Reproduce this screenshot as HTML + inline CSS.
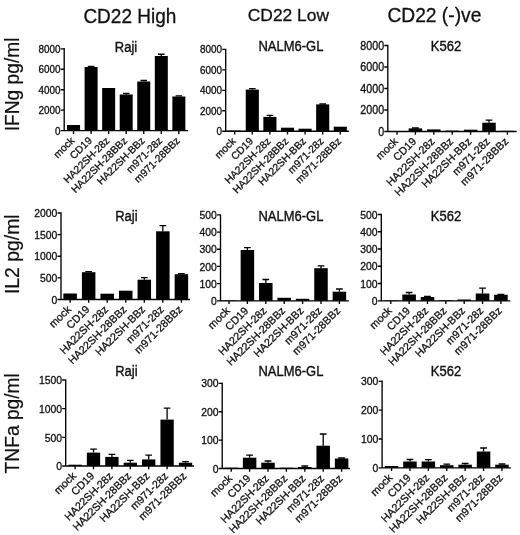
<!DOCTYPE html>
<html lang="en">
<head>
<meta charset="utf-8">
<title>Cytokine production by CD22 CAR T cells</title>
<style>
html,body{margin:0;padding:0;background:#fff;}
svg{display:block;will-change:transform;filter:grayscale(1);}
text{font-family:"Liberation Sans", Arial, Helvetica, sans-serif;fill:#111;stroke:#111;stroke-width:0.3px;}
.tt{stroke-width:0.35px;}
.rl{stroke-width:0.2px;}
.ax{stroke:#000;stroke-width:1.35;fill:none;}
.bar{fill:#000;}
.err{stroke:#000;stroke-width:1.3;fill:none;}
</style>
</head>
<body>
<svg width="520" height="535" viewBox="0 0 520 535">
<rect width="520" height="535" fill="#fff"/>
<text transform="translate(83.4 22.8) scale(1 1.09)" font-size="19">CD22 High</text>
<text transform="translate(247.8 20.9) scale(1 1)" font-size="17.4">CD22 Low</text>
<text transform="translate(387.5 21.9) scale(1 1.02)" font-size="19.2">CD22 (-)ve</text>
<text class="rl" transform="translate(18.5 84.4) rotate(-90) scale(1 1.05)" text-anchor="middle" font-size="19.2">IFNg pg/ml</text>
<text class="rl" transform="translate(18.8 254.2) rotate(-90) scale(1 1.05)" text-anchor="middle" font-size="19.4">IL2 pg/ml</text>
<text class="rl" transform="translate(18.8 423.3) rotate(-90) scale(1 1.05)" text-anchor="middle" font-size="19.2">TNFa pg/ml</text>
<g>
<text class="tt" transform="translate(126 51.8) scale(1 1.08)" text-anchor="middle" font-size="13">Raji</text>
<rect class="bar" x="67.05" y="125" width="13" height="5.65"/>
<path class="err" d="M91.1 67 V66.5 M87.85 66.5 H94.35"/>
<rect class="bar" x="84.6" y="67" width="13" height="63.65"/>
<rect class="bar" x="102.15" y="88" width="13" height="42.65"/>
<path class="err" d="M126.2 94.5 V93.5 M122.95 93.5 H129.45"/>
<rect class="bar" x="119.7" y="94.5" width="13" height="36.15"/>
<path class="err" d="M143.75 81.5 V80.5 M140.5 80.5 H147"/>
<rect class="bar" x="137.25" y="81.5" width="13" height="49.15"/>
<path class="err" d="M161.3 56 V54.25 M158.05 54.25 H164.55"/>
<rect class="bar" x="154.8" y="56" width="13" height="74.65"/>
<path class="err" d="M178.85 96.5 V95.8 M175.6 95.8 H182.1"/>
<rect class="bar" x="172.35" y="96.5" width="13" height="34.15"/>
<path class="ax" d="M64.2 48.12 V130.65 H188 M64.2 130.65 H60.7 M64.2 110.19 H60.7 M64.2 89.72 H60.7 M64.2 69.26 H60.7 M64.2 48.8 H60.7 M73.55 130.65 V133.95 M91.1 130.65 V133.95 M108.65 130.65 V133.95 M126.2 130.65 V133.95 M143.75 130.65 V133.95 M161.3 130.65 V133.95 M178.85 130.65 V133.95"/>
<text transform="translate(60.5 134.62) scale(1 1.12)" text-anchor="end" font-size="9.9">0</text>
<text transform="translate(60.5 114.16) scale(1 1.12)" text-anchor="end" font-size="9.9">2000</text>
<text transform="translate(60.5 93.69) scale(1 1.12)" text-anchor="end" font-size="9.9">4000</text>
<text transform="translate(60.5 73.23) scale(1 1.12)" text-anchor="end" font-size="9.9">6000</text>
<text transform="translate(60.5 52.77) scale(1 1.12)" text-anchor="end" font-size="9.9">8000</text>
<text transform="translate(75.15 141.25) rotate(-45)" text-anchor="end" font-size="10.3">mock</text>
<text transform="translate(92.7 141.25) rotate(-45)" text-anchor="end" font-size="10.3">CD19</text>
<text transform="translate(110.25 141.25) rotate(-45)" text-anchor="end" font-size="10.3">HA22SH-28z</text>
<text transform="translate(127.8 141.25) rotate(-45)" text-anchor="end" font-size="10.3">HA22SH-28BBz</text>
<text transform="translate(145.35 141.25) rotate(-45)" text-anchor="end" font-size="10.3">HA22SH-BBz</text>
<text transform="translate(162.9 141.25) rotate(-45)" text-anchor="end" font-size="10.3">m971-28z</text>
<text transform="translate(180.45 141.25) rotate(-45)" text-anchor="end" font-size="10.3">m971-28BBz</text>
</g>
<g>
<text class="tt" transform="translate(290.9 51.2) scale(1 1.08)" text-anchor="middle" font-size="13">NALM6-GL</text>
<rect class="bar" x="228.15" y="130.6" width="13.1" height="0.6"/>
<path class="err" d="M252.3 89.6 V88.6 M249.03 88.6 H255.58"/>
<rect class="bar" x="245.75" y="89.6" width="13.1" height="41.6"/>
<path class="err" d="M269.9 116.9 V115.4 M266.63 115.4 H273.18"/>
<rect class="bar" x="263.35" y="116.9" width="13.1" height="14.3"/>
<rect class="bar" x="280.95" y="127.7" width="13.1" height="3.5"/>
<rect class="bar" x="298.55" y="128.7" width="13.1" height="2.5"/>
<path class="err" d="M322.7 104.4 V104 M319.43 104 H325.97"/>
<rect class="bar" x="316.15" y="104.4" width="13.1" height="26.8"/>
<rect class="bar" x="333.75" y="126.7" width="13.1" height="4.5"/>
<path class="ax" d="M225.7 48.73 V131.2 H348.9 M225.7 131.2 H222.2 M225.7 110.75 H222.2 M225.7 90.3 H222.2 M225.7 69.85 H222.2 M225.7 49.4 H222.2 M234.7 131.2 V134.5 M252.3 131.2 V134.5 M269.9 131.2 V134.5 M287.5 131.2 V134.5 M305.1 131.2 V134.5 M322.7 131.2 V134.5 M340.3 131.2 V134.5"/>
<text transform="translate(222 135.17) scale(1 1.12)" text-anchor="end" font-size="9.9">0</text>
<text transform="translate(222 114.72) scale(1 1.12)" text-anchor="end" font-size="9.9">2000</text>
<text transform="translate(222 94.27) scale(1 1.12)" text-anchor="end" font-size="9.9">4000</text>
<text transform="translate(222 73.82) scale(1 1.12)" text-anchor="end" font-size="9.9">6000</text>
<text transform="translate(222 53.37) scale(1 1.12)" text-anchor="end" font-size="9.9">8000</text>
<text transform="translate(236.3 141.8) rotate(-45)" text-anchor="end" font-size="10.3">mock</text>
<text transform="translate(253.9 141.8) rotate(-45)" text-anchor="end" font-size="10.3">CD19</text>
<text transform="translate(271.5 141.8) rotate(-45)" text-anchor="end" font-size="10.3">HA22SH-28z</text>
<text transform="translate(289.1 141.8) rotate(-45)" text-anchor="end" font-size="10.3">HA22SH-28BBz</text>
<text transform="translate(306.7 141.8) rotate(-45)" text-anchor="end" font-size="10.3">HA22SH-BBz</text>
<text transform="translate(324.3 141.8) rotate(-45)" text-anchor="end" font-size="10.3">m971-28z</text>
<text transform="translate(341.9 141.8) rotate(-45)" text-anchor="end" font-size="10.3">m971-28BBz</text>
</g>
<g>
<text class="tt" transform="translate(446 51.2) scale(1 1.08)" text-anchor="middle" font-size="13">K562</text>
<rect class="bar" x="390.25" y="131.2" width="13.5" height="0.3"/>
<path class="err" d="M415.4 128.4 V128 M412.02 128 H418.77"/>
<rect class="bar" x="408.65" y="128.4" width="13.5" height="3.1"/>
<rect class="bar" x="427.05" y="129.4" width="13.5" height="2.1"/>
<rect class="bar" x="445.45" y="130.6" width="13.5" height="0.9"/>
<rect class="bar" x="463.85" y="129.7" width="13.5" height="1.8"/>
<path class="err" d="M489 122.7 V120.2 M485.62 120.2 H492.38"/>
<rect class="bar" x="482.25" y="122.7" width="13.5" height="8.8"/>
<rect class="bar" x="500.65" y="130.8" width="13.5" height="0.7"/>
<path class="ax" d="M387.8 44.83 V131.5 H516.7 M387.8 131.5 H384.3 M387.8 110 H384.3 M387.8 88.5 H384.3 M387.8 67 H384.3 M387.8 45.5 H384.3 M397 131.5 V134.8 M415.4 131.5 V134.8 M433.8 131.5 V134.8 M452.2 131.5 V134.8 M470.6 131.5 V134.8 M489 131.5 V134.8 M507.4 131.5 V134.8"/>
<text transform="translate(384.1 135.79) scale(1 1.12)" text-anchor="end" font-size="10.7">0</text>
<text transform="translate(384.1 114.29) scale(1 1.12)" text-anchor="end" font-size="10.7">2000</text>
<text transform="translate(384.1 92.79) scale(1 1.12)" text-anchor="end" font-size="10.7">4000</text>
<text transform="translate(384.1 71.29) scale(1 1.12)" text-anchor="end" font-size="10.7">6000</text>
<text transform="translate(384.1 49.79) scale(1 1.12)" text-anchor="end" font-size="10.7">8000</text>
<text transform="translate(398.6 142.1) rotate(-45)" text-anchor="end" font-size="10.8">mock</text>
<text transform="translate(417 142.1) rotate(-45)" text-anchor="end" font-size="10.8">CD19</text>
<text transform="translate(435.4 142.1) rotate(-45)" text-anchor="end" font-size="10.8">HA22SH-28z</text>
<text transform="translate(453.8 142.1) rotate(-45)" text-anchor="end" font-size="10.8">HA22SH-28BBz</text>
<text transform="translate(472.2 142.1) rotate(-45)" text-anchor="end" font-size="10.8">HA22SH-BBz</text>
<text transform="translate(490.6 142.1) rotate(-45)" text-anchor="end" font-size="10.8">m971-28z</text>
<text transform="translate(509 142.1) rotate(-45)" text-anchor="end" font-size="10.8">m971-28BBz</text>
</g>
<g>
<text class="tt" transform="translate(126.4 220.6) scale(1 1.08)" text-anchor="middle" font-size="13">Raji</text>
<rect class="bar" x="63.35" y="293.5" width="13.5" height="6"/>
<path class="err" d="M88.65 272.2 V271.7 M85.28 271.7 H92.03"/>
<rect class="bar" x="81.9" y="272.2" width="13.5" height="27.3"/>
<rect class="bar" x="100.45" y="293.7" width="13.5" height="5.8"/>
<rect class="bar" x="119" y="290.7" width="13.5" height="8.8"/>
<path class="err" d="M144.3 279.7 V277.7 M140.93 277.7 H147.68"/>
<rect class="bar" x="137.55" y="279.7" width="13.5" height="19.8"/>
<path class="err" d="M162.85 231.3 V225.6 M159.47 225.6 H166.22"/>
<rect class="bar" x="156.1" y="231.3" width="13.5" height="68.2"/>
<path class="err" d="M181.4 274.2 V273.7 M178.03 273.7 H184.78"/>
<rect class="bar" x="174.65" y="274.2" width="13.5" height="25.3"/>
<path class="ax" d="M61 212.32 V299.5 H190 M61 299.5 H57.5 M61 277.88 H57.5 M61 256.25 H57.5 M61 234.62 H57.5 M61 213 H57.5 M70.1 299.5 V302.8 M88.65 299.5 V302.8 M107.2 299.5 V302.8 M125.75 299.5 V302.8 M144.3 299.5 V302.8 M162.85 299.5 V302.8 M181.4 299.5 V302.8"/>
<text transform="translate(57.3 303.67) scale(1 1.12)" text-anchor="end" font-size="10.4">0</text>
<text transform="translate(57.3 282.04) scale(1 1.12)" text-anchor="end" font-size="10.4">500</text>
<text transform="translate(57.3 260.42) scale(1 1.12)" text-anchor="end" font-size="10.4">1000</text>
<text transform="translate(57.3 238.79) scale(1 1.12)" text-anchor="end" font-size="10.4">1500</text>
<text transform="translate(57.3 217.17) scale(1 1.12)" text-anchor="end" font-size="10.4">2000</text>
<text transform="translate(71.7 310.1) rotate(-45)" text-anchor="end" font-size="10.8">mock</text>
<text transform="translate(90.25 310.1) rotate(-45)" text-anchor="end" font-size="10.8">CD19</text>
<text transform="translate(108.8 310.1) rotate(-45)" text-anchor="end" font-size="10.8">HA22SH-28z</text>
<text transform="translate(127.35 310.1) rotate(-45)" text-anchor="end" font-size="10.8">HA22SH-28BBz</text>
<text transform="translate(145.9 310.1) rotate(-45)" text-anchor="end" font-size="10.8">HA22SH-BBz</text>
<text transform="translate(164.45 310.1) rotate(-45)" text-anchor="end" font-size="10.8">m971-28z</text>
<text transform="translate(183 310.1) rotate(-45)" text-anchor="end" font-size="10.8">m971-28BBz</text>
</g>
<g>
<text class="tt" transform="translate(290.9 220.6) scale(1 1.08)" text-anchor="middle" font-size="13">NALM6-GL</text>
<rect class="bar" x="222.25" y="300.3" width="13.5" height="0.5"/>
<path class="err" d="M247.4 250 V247.6 M244.03 247.6 H250.78"/>
<rect class="bar" x="240.65" y="250" width="13.5" height="50.8"/>
<path class="err" d="M265.8 283 V279.5 M262.43 279.5 H269.18"/>
<rect class="bar" x="259.05" y="283" width="13.5" height="17.8"/>
<rect class="bar" x="277.45" y="297.8" width="13.5" height="3"/>
<rect class="bar" x="295.85" y="298.8" width="13.5" height="2"/>
<path class="err" d="M321 268.2 V265.9 M317.62 265.9 H324.38"/>
<rect class="bar" x="314.25" y="268.2" width="13.5" height="32.6"/>
<path class="err" d="M339.4 291.7 V289 M336.02 289 H342.77"/>
<rect class="bar" x="332.65" y="291.7" width="13.5" height="9.1"/>
<path class="ax" d="M220.5 214.22 V300.8 H348.9 M220.5 300.8 H217 M220.5 283.62 H217 M220.5 266.44 H217 M220.5 249.26 H217 M220.5 232.08 H217 M220.5 214.9 H217 M229 300.8 V304.1 M247.4 300.8 V304.1 M265.8 300.8 V304.1 M284.2 300.8 V304.1 M302.6 300.8 V304.1 M321 300.8 V304.1 M339.4 300.8 V304.1"/>
<text transform="translate(216.8 304.97) scale(1 1.12)" text-anchor="end" font-size="10.4">0</text>
<text transform="translate(216.8 287.79) scale(1 1.12)" text-anchor="end" font-size="10.4">100</text>
<text transform="translate(216.8 270.61) scale(1 1.12)" text-anchor="end" font-size="10.4">200</text>
<text transform="translate(216.8 253.43) scale(1 1.12)" text-anchor="end" font-size="10.4">300</text>
<text transform="translate(216.8 236.25) scale(1 1.12)" text-anchor="end" font-size="10.4">400</text>
<text transform="translate(216.8 219.07) scale(1 1.12)" text-anchor="end" font-size="10.4">500</text>
<text transform="translate(230.6 311.4) rotate(-45)" text-anchor="end" font-size="10.8">mock</text>
<text transform="translate(249 311.4) rotate(-45)" text-anchor="end" font-size="10.8">CD19</text>
<text transform="translate(267.4 311.4) rotate(-45)" text-anchor="end" font-size="10.8">HA22SH-28z</text>
<text transform="translate(285.8 311.4) rotate(-45)" text-anchor="end" font-size="10.8">HA22SH-28BBz</text>
<text transform="translate(304.2 311.4) rotate(-45)" text-anchor="end" font-size="10.8">HA22SH-BBz</text>
<text transform="translate(322.6 311.4) rotate(-45)" text-anchor="end" font-size="10.8">m971-28z</text>
<text transform="translate(341 311.4) rotate(-45)" text-anchor="end" font-size="10.8">m971-28BBz</text>
</g>
<g>
<text class="tt" transform="translate(446 220.6) scale(1 1.08)" text-anchor="middle" font-size="13">K562</text>
<rect class="bar" x="383.95" y="300.3" width="13.6" height="0.5"/>
<path class="err" d="M409.11 294.5 V292.5 M405.71 292.5 H412.51"/>
<rect class="bar" x="402.31" y="294.5" width="13.6" height="6.3"/>
<path class="err" d="M427.47 297 V296.5 M424.07 296.5 H430.87"/>
<rect class="bar" x="420.67" y="297" width="13.6" height="3.8"/>
<rect class="bar" x="439.03" y="300.2" width="13.6" height="0.6"/>
<rect class="bar" x="457.39" y="299.5" width="13.6" height="1.3"/>
<path class="err" d="M482.55 293.5 V288.2 M479.15 288.2 H485.95"/>
<rect class="bar" x="475.75" y="293.5" width="13.6" height="7.3"/>
<path class="err" d="M500.91 294.8 V294.3 M497.51 294.3 H504.31"/>
<rect class="bar" x="494.11" y="294.8" width="13.6" height="6"/>
<path class="ax" d="M381.3 213.82 V300.8 H510.3 M381.3 300.8 H377.8 M381.3 283.54 H377.8 M381.3 266.28 H377.8 M381.3 249.02 H377.8 M381.3 231.76 H377.8 M381.3 214.5 H377.8 M390.75 300.8 V304.1 M409.11 300.8 V304.1 M427.47 300.8 V304.1 M445.83 300.8 V304.1 M464.19 300.8 V304.1 M482.55 300.8 V304.1 M500.91 300.8 V304.1"/>
<text transform="translate(377.6 304.97) scale(1 1.12)" text-anchor="end" font-size="10.4">0</text>
<text transform="translate(377.6 287.71) scale(1 1.12)" text-anchor="end" font-size="10.4">100</text>
<text transform="translate(377.6 270.45) scale(1 1.12)" text-anchor="end" font-size="10.4">200</text>
<text transform="translate(377.6 253.19) scale(1 1.12)" text-anchor="end" font-size="10.4">300</text>
<text transform="translate(377.6 235.93) scale(1 1.12)" text-anchor="end" font-size="10.4">400</text>
<text transform="translate(377.6 218.67) scale(1 1.12)" text-anchor="end" font-size="10.4">500</text>
<text transform="translate(392.35 311.4) rotate(-45)" text-anchor="end" font-size="10.8">mock</text>
<text transform="translate(410.71 311.4) rotate(-45)" text-anchor="end" font-size="10.8">CD19</text>
<text transform="translate(429.07 311.4) rotate(-45)" text-anchor="end" font-size="10.8">HA22SH-28z</text>
<text transform="translate(447.43 311.4) rotate(-45)" text-anchor="end" font-size="10.8">HA22SH-28BBz</text>
<text transform="translate(465.79 311.4) rotate(-45)" text-anchor="end" font-size="10.8">HA22SH-BBz</text>
<text transform="translate(484.15 311.4) rotate(-45)" text-anchor="end" font-size="10.8">m971-28z</text>
<text transform="translate(502.51 311.4) rotate(-45)" text-anchor="end" font-size="10.8">m971-28BBz</text>
</g>
<g>
<text class="tt" transform="translate(126.4 376.1) scale(1 1.08)" text-anchor="middle" font-size="13">Raji</text>
<rect class="bar" x="68.45" y="464.7" width="13.3" height="1.3"/>
<path class="err" d="M93.5 452.6 V449.1 M90.17 449.1 H96.83"/>
<rect class="bar" x="86.85" y="452.6" width="13.3" height="13.4"/>
<path class="err" d="M111.9 456.9 V454.4 M108.58 454.4 H115.23"/>
<rect class="bar" x="105.25" y="456.9" width="13.3" height="9.1"/>
<path class="err" d="M130.3 462.7 V460.4 M126.98 460.4 H133.62"/>
<rect class="bar" x="123.65" y="462.7" width="13.3" height="3.3"/>
<path class="err" d="M148.7 459.4 V455.2 M145.38 455.2 H152.03"/>
<rect class="bar" x="142.05" y="459.4" width="13.3" height="6.6"/>
<path class="err" d="M167.1 419.6 V408.1 M163.78 408.1 H170.42"/>
<rect class="bar" x="160.45" y="419.6" width="13.3" height="46.4"/>
<path class="err" d="M185.5 462.7 V461.7 M182.18 461.7 H188.82"/>
<rect class="bar" x="178.85" y="462.7" width="13.3" height="3.3"/>
<path class="ax" d="M65.7 379.32 V466 H194 M65.7 466 H62.2 M65.7 437.33 H62.2 M65.7 408.67 H62.2 M65.7 380 H62.2 M75.1 466 V469.3 M93.5 466 V469.3 M111.9 466 V469.3 M130.3 466 V469.3 M148.7 466 V469.3 M167.1 466 V469.3 M185.5 466 V469.3"/>
<text transform="translate(62 470.17) scale(1 1.12)" text-anchor="end" font-size="10.4">0</text>
<text transform="translate(62 441.5) scale(1 1.12)" text-anchor="end" font-size="10.4">500</text>
<text transform="translate(62 412.84) scale(1 1.12)" text-anchor="end" font-size="10.4">1000</text>
<text transform="translate(62 384.17) scale(1 1.12)" text-anchor="end" font-size="10.4">1500</text>
<text transform="translate(76.7 476.6) rotate(-45)" text-anchor="end" font-size="10.8">mock</text>
<text transform="translate(95.1 476.6) rotate(-45)" text-anchor="end" font-size="10.8">CD19</text>
<text transform="translate(113.5 476.6) rotate(-45)" text-anchor="end" font-size="10.8">HA22SH-28z</text>
<text transform="translate(131.9 476.6) rotate(-45)" text-anchor="end" font-size="10.8">HA22SH-28BBz</text>
<text transform="translate(150.3 476.6) rotate(-45)" text-anchor="end" font-size="10.8">HA22SH-BBz</text>
<text transform="translate(168.7 476.6) rotate(-45)" text-anchor="end" font-size="10.8">m971-28z</text>
<text transform="translate(187.1 476.6) rotate(-45)" text-anchor="end" font-size="10.8">m971-28BBz</text>
</g>
<g>
<text class="tt" transform="translate(290.9 376.1) scale(1 1.08)" text-anchor="middle" font-size="13">NALM6-GL</text>
<rect class="bar" x="224.45" y="467.7" width="13.5" height="0.8"/>
<path class="err" d="M249.6 457.7 V455.2 M246.22 455.2 H252.97"/>
<rect class="bar" x="242.85" y="457.7" width="13.5" height="10.8"/>
<path class="err" d="M268 462.7 V461 M264.62 461 H271.38"/>
<rect class="bar" x="261.25" y="462.7" width="13.5" height="5.8"/>
<rect class="bar" x="279.65" y="467.7" width="13.5" height="0.8"/>
<path class="err" d="M304.8 467 V466 M301.42 466 H308.17"/>
<rect class="bar" x="298.05" y="467" width="13.5" height="1.5"/>
<path class="err" d="M323.2 445.7 V434 M319.82 434 H326.57"/>
<rect class="bar" x="316.45" y="445.7" width="13.5" height="22.8"/>
<path class="err" d="M341.6 458.5 V458 M338.22 458 H344.97"/>
<rect class="bar" x="334.85" y="458.5" width="13.5" height="10"/>
<path class="ax" d="M222.2 382.62 V468.5 H350 M222.2 468.5 H218.7 M222.2 440.1 H218.7 M222.2 411.7 H218.7 M222.2 383.3 H218.7 M231.2 468.5 V471.8 M249.6 468.5 V471.8 M268 468.5 V471.8 M286.4 468.5 V471.8 M304.8 468.5 V471.8 M323.2 468.5 V471.8 M341.6 468.5 V471.8"/>
<text transform="translate(218.5 472.67) scale(1 1.12)" text-anchor="end" font-size="10.4">0</text>
<text transform="translate(218.5 444.27) scale(1 1.12)" text-anchor="end" font-size="10.4">100</text>
<text transform="translate(218.5 415.87) scale(1 1.12)" text-anchor="end" font-size="10.4">200</text>
<text transform="translate(218.5 387.47) scale(1 1.12)" text-anchor="end" font-size="10.4">300</text>
<text transform="translate(232.8 479.1) rotate(-45)" text-anchor="end" font-size="10.8">mock</text>
<text transform="translate(251.2 479.1) rotate(-45)" text-anchor="end" font-size="10.8">CD19</text>
<text transform="translate(269.6 479.1) rotate(-45)" text-anchor="end" font-size="10.8">HA22SH-28z</text>
<text transform="translate(288 479.1) rotate(-45)" text-anchor="end" font-size="10.8">HA22SH-28BBz</text>
<text transform="translate(306.4 479.1) rotate(-45)" text-anchor="end" font-size="10.8">HA22SH-BBz</text>
<text transform="translate(324.8 479.1) rotate(-45)" text-anchor="end" font-size="10.8">m971-28z</text>
<text transform="translate(343.2 479.1) rotate(-45)" text-anchor="end" font-size="10.8">m971-28BBz</text>
</g>
<g>
<text class="tt" transform="translate(446 376.1) scale(1 1.08)" text-anchor="middle" font-size="13">K562</text>
<rect class="bar" x="384.8" y="466" width="13.5" height="1.8"/>
<path class="err" d="M409.95 461.5 V459.5 M406.57 459.5 H413.32"/>
<rect class="bar" x="403.2" y="461.5" width="13.5" height="6.3"/>
<path class="err" d="M428.35 461.5 V459.7 M424.98 459.7 H431.73"/>
<rect class="bar" x="421.6" y="461.5" width="13.5" height="6.3"/>
<path class="err" d="M446.75 465.2 V464.2 M443.38 464.2 H450.12"/>
<rect class="bar" x="440" y="465.2" width="13.5" height="2.6"/>
<path class="err" d="M465.15 464.7 V463.5 M461.77 463.5 H468.52"/>
<rect class="bar" x="458.4" y="464.7" width="13.5" height="3.1"/>
<path class="err" d="M483.55 451.5 V448 M480.18 448 H486.93"/>
<rect class="bar" x="476.8" y="451.5" width="13.5" height="16.3"/>
<path class="err" d="M501.95 464.7 V464 M498.57 464 H505.32"/>
<rect class="bar" x="495.2" y="464.7" width="13.5" height="3.1"/>
<path class="ax" d="M382.1 380.62 V467.8 H510.8 M382.1 467.8 H378.6 M382.1 438.97 H378.6 M382.1 410.13 H378.6 M382.1 381.3 H378.6 M391.55 467.8 V471.1 M409.95 467.8 V471.1 M428.35 467.8 V471.1 M446.75 467.8 V471.1 M465.15 467.8 V471.1 M483.55 467.8 V471.1 M501.95 467.8 V471.1"/>
<text transform="translate(378.4 471.97) scale(1 1.12)" text-anchor="end" font-size="10.4">0</text>
<text transform="translate(378.4 443.14) scale(1 1.12)" text-anchor="end" font-size="10.4">100</text>
<text transform="translate(378.4 414.3) scale(1 1.12)" text-anchor="end" font-size="10.4">200</text>
<text transform="translate(378.4 385.47) scale(1 1.12)" text-anchor="end" font-size="10.4">300</text>
<text transform="translate(393.15 478.4) rotate(-45)" text-anchor="end" font-size="10.8">mock</text>
<text transform="translate(411.55 478.4) rotate(-45)" text-anchor="end" font-size="10.8">CD19</text>
<text transform="translate(429.95 478.4) rotate(-45)" text-anchor="end" font-size="10.8">HA22SH-28z</text>
<text transform="translate(448.35 478.4) rotate(-45)" text-anchor="end" font-size="10.8">HA22SH-28BBz</text>
<text transform="translate(466.75 478.4) rotate(-45)" text-anchor="end" font-size="10.8">HA22SH-BBz</text>
<text transform="translate(485.15 478.4) rotate(-45)" text-anchor="end" font-size="10.8">m971-28z</text>
<text transform="translate(503.55 478.4) rotate(-45)" text-anchor="end" font-size="10.8">m971-28BBz</text>
</g>
</svg>
</body>
</html>
